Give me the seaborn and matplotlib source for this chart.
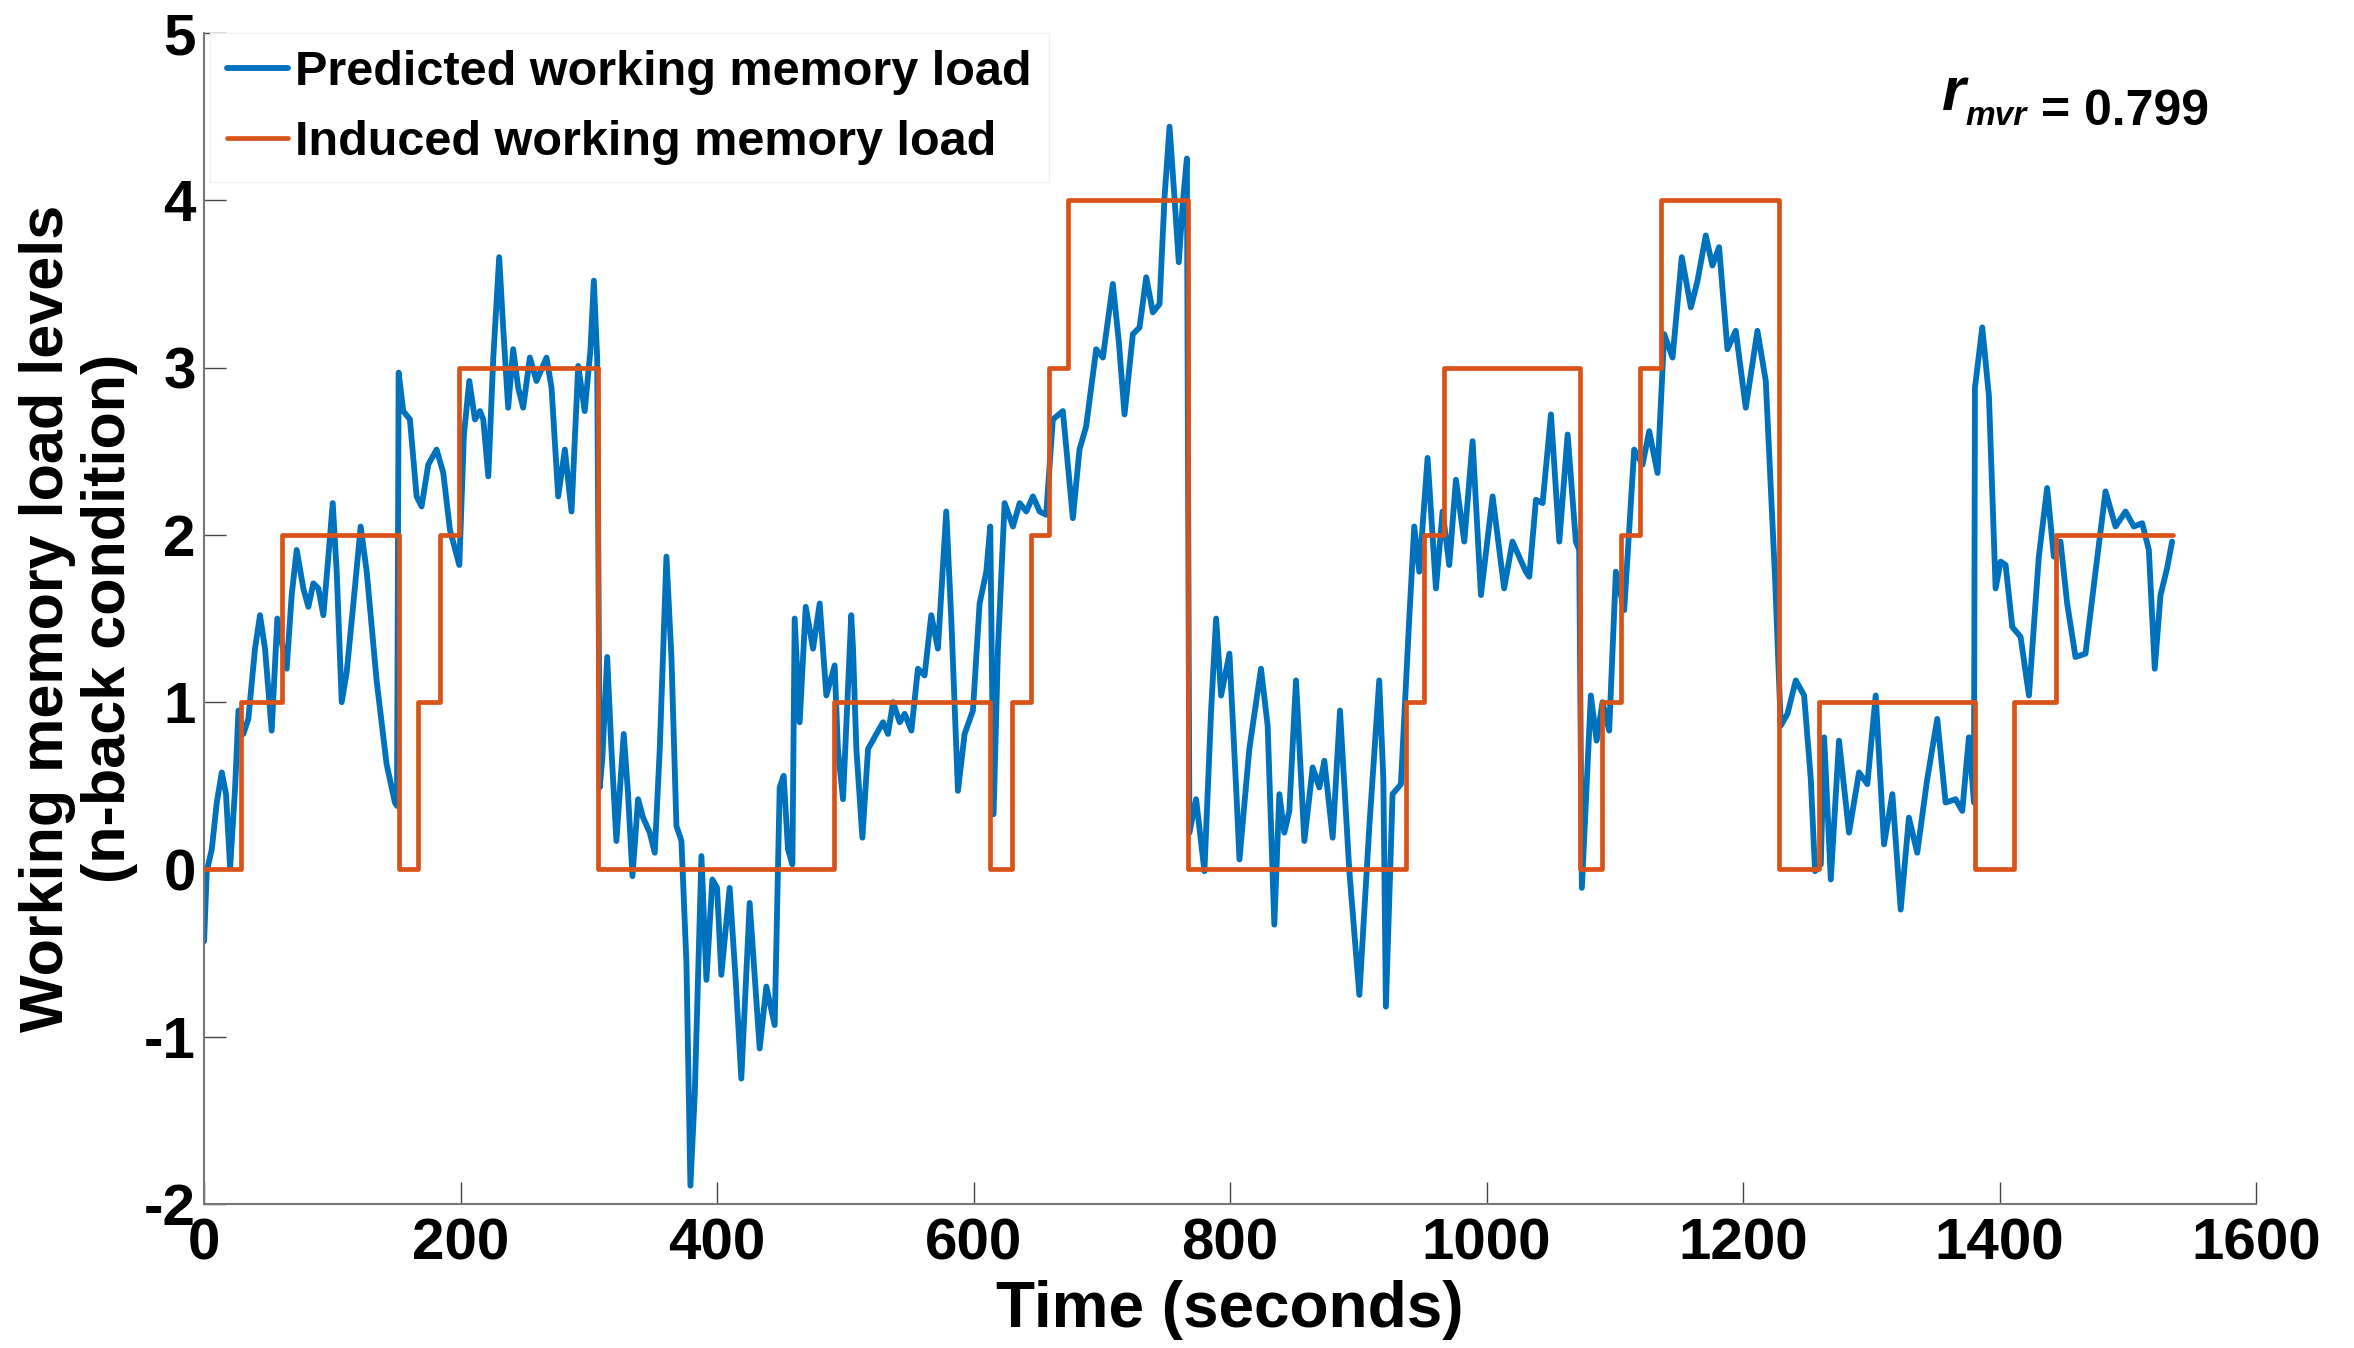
"""
Predicted vs induced working memory load over time.
"""
import matplotlib.pyplot as plt
import pandas as pd
import seaborn as sns

# induced load: step edges (s) and the level held from each edge to the next
step_edges = [0, 29, 61, 152, 167, 184, 199, 307, 491, 613, 630, 645, 659, 674, 767,
              937, 951, 967, 1073, 1090, 1105, 1120, 1136, 1228, 1259, 1381, 1411, 1444, 1535]
step_levels = [0, 1, 2, 0, 1, 2, 3, 0, 1, 0, 1, 2, 3, 4, 0,
               1, 2, 3, 0, 1, 2, 3, 4, 0, 1, 0, 1, 2]

# predicted load
pred_time = [0, 2.1, 6.0, 9.9, 13.8, 17.1, 20.3, 24.2, 26.8, 30.6, 34.5, 39.7, 43.6, 47.5,
             52.7, 57.1, 64.4, 68.3, 72.2, 77.4, 81.3, 85.2, 89.1, 93.0, 96.9, 100.3, 103.4,
             107.3, 111.2, 116.4, 122.1, 126.8, 134.5, 142.3, 148.8, 150.4, 151.7, 155.3,
             160.5, 165.7, 169.6, 174.8, 181.3, 186.5, 191.7, 199.0, 202.6, 206.8, 211.2,
             215.1, 217.7, 221.6, 225.5, 230.1, 233.2, 237.1, 241.0, 244.9, 248.8, 254.0,
             259.2, 267.0, 270.9, 276.1, 281.3, 286.5, 291.7, 296.8, 301.3, 303.9, 306.5,
             308.5, 310.6, 314.3, 317.6, 321.5, 327.2, 330.6, 334.0, 338.4, 342.3, 347.5,
             351.4, 355.3, 360.5, 364.4, 368.3, 372.2, 376.1, 379.2, 382.6, 387.8, 391.7,
             396.3, 400.0, 403.3, 409.8, 414.5, 418.9, 425.4, 433.2, 438.4, 444.9, 448.8,
             451.9, 455.3, 458.7, 460.5, 464.4, 469.1, 474.8, 480.0, 485.2, 491.7, 494.2,
             498.2, 504.6, 506.0, 508.6, 513.3, 517.7, 524.2, 529.4, 533.3, 537.2, 542.4,
             546.3, 551.5, 556.6, 561.8, 567.0, 572.2, 578.7, 582.6, 587.8, 593.0, 599.5,
             604.7, 609.9, 613.0, 615.6, 619.0, 624.2, 630.7, 635.9, 641.1, 646.3, 651.5,
             656.6, 661.8, 669.6, 677.4, 682.6, 687.8, 695.6, 700.8, 708.6, 713.3, 717.7,
             724.2, 729.4, 734.6, 739.8, 745.0, 748.9, 752.8, 756.6, 760.0, 763.1, 766.3,
             768.3, 773.5, 780.0, 785.2, 789.1, 793.0, 799.5, 804.7, 807.3, 815.0, 824.1,
             829.3, 834.5, 838.4, 842.3, 846.2, 851.4, 857.9, 864.4, 869.6, 873.5, 880.0,
             885.7, 893.0, 900.8, 908.6, 916.3, 919.5, 921.5, 926.7, 933.2, 939.7, 943.6,
             947.5, 954.0, 960.5, 965.7, 970.9, 976.1, 982.6, 989.1, 995.6, 1004.7, 1013.7,
             1020.2, 1030.6, 1033.3, 1038.5, 1043.7, 1050.2, 1056.7, 1063.2, 1069.6, 1072.2,
             1074.3, 1081.3, 1085.8, 1090.4, 1095.6, 1100.8, 1107.3, 1115.1, 1121.6, 1126.8,
             1133.3, 1138.5, 1145.0, 1152.2, 1159.3, 1164.5, 1170.9, 1176.1, 1181.3, 1187.8,
             1194.3, 1202.1, 1211.2, 1217.7, 1225.0, 1229.4, 1234.6, 1241.1, 1247.6, 1252.8,
             1256.1, 1260.6, 1263.2, 1268.4, 1274.8, 1282.6, 1290.4, 1296.9, 1303.4, 1309.9,
             1316.4, 1322.9, 1329.3, 1335.8, 1343.6, 1351.4, 1357.9, 1365.7, 1370.9, 1376.1,
             1380.0, 1380.8, 1386.5, 1391.7, 1396.9, 1400.8, 1404.7, 1409.9, 1416.4, 1422.9,
             1430.6, 1437.1, 1442.3, 1447.5, 1452.7, 1459.2, 1467.0, 1474.8, 1482.6, 1490.4,
             1498.2, 1504.7, 1511.2, 1516.4, 1521.0, 1525.5, 1530.6, 1534.5]
pred_load = [-0.43, -0.01, 0.12, 0.40, 0.58, 0.45, 0.01, 0.49, 0.95, 0.81, 0.90, 1.32, 1.52, 1.32,
             0.83, 1.50, 1.20, 1.64, 1.91, 1.68, 1.57, 1.71, 1.68, 1.52, 1.87, 2.19, 1.78,
             1.00, 1.18, 1.59, 2.05, 1.78, 1.13, 0.63, 0.40, 0.38, 2.97, 2.74,
             2.69, 2.23, 2.17, 2.42, 2.51, 2.37, 2.03, 1.82, 2.60, 2.92, 2.69,
             2.74, 2.69, 2.35, 3.06, 3.66, 3.24, 2.76, 3.11, 2.88, 2.76, 3.06,
             2.92, 3.06, 2.88, 2.23, 2.51, 2.14, 3.01, 2.74, 3.11, 3.52, 3.06,
             0.49, 0.67, 1.27, 0.72, 0.17, 0.81, 0.45, -0.04, 0.42, 0.31, 0.22,
             0.10, 0.72, 1.87, 1.27, 0.26, 0.17, -0.56, -1.89, -1.34, 0.08, -0.66,
             -0.06, -0.11, -0.63, -0.11, -0.66, -1.25, -0.20, -1.07, -0.70, -0.93, 0.49,
             0.56, 0.12, 0.03, 1.50, 0.88, 1.57, 1.32, 1.59, 1.04, 1.22, 0.72,
             0.42, 1.52, 1.32, 0.72, 0.19, 0.72, 0.81, 0.88, 0.81, 1.00, 0.88,
             0.93, 0.83, 1.20, 1.16, 1.52, 1.32, 2.14, 1.50, 0.47, 0.81, 0.95,
             1.59, 1.78, 2.05, 0.33, 1.32, 2.19, 2.05, 2.19, 2.14, 2.23, 2.14,
             2.12, 2.69, 2.74, 2.10, 2.51, 2.65, 3.11, 3.06, 3.50, 3.15, 2.72,
             3.20, 3.24, 3.54, 3.33, 3.38, 4.02, 4.44, 4.02, 3.63, 3.98, 4.25,
             0.22, 0.42, -0.01, 0.95, 1.50, 1.04, 1.29, 0.49, 0.06, 0.72, 1.20,
             0.86, -0.33, 0.45, 0.22, 0.35, 1.13, 0.17, 0.61, 0.49, 0.65, 0.19,
             0.95, -0.01, -0.75, 0.26, 1.13, 0.54, -0.82, 0.45, 0.51, 1.50, 2.05,
             1.78, 2.46, 1.68, 2.14, 1.82, 2.33, 1.96, 2.56, 1.64, 2.23, 1.68,
             1.96, 1.78, 1.75, 2.21, 2.19, 2.72, 1.96, 2.60, 1.96, 1.91,
             -0.11, 1.04, 0.77, 1.00, 0.83, 1.78, 1.55, 2.51, 2.42, 2.62,
             2.37, 3.20, 3.06, 3.66, 3.36, 3.52, 3.79, 3.61, 3.72, 3.11,
             3.22, 2.76, 3.22, 2.92, 1.73, 0.86, 0.93, 1.13, 1.04, 0.54,
             -0.01, 0.03, 0.79, -0.06, 0.77, 0.22, 0.58, 0.51, 1.04, 0.15,
             0.45, -0.24, 0.31, 0.10, 0.54, 0.90, 0.40, 0.42, 0.35, 0.79,
             0.40, 2.88, 3.24, 2.83, 1.68, 1.84, 1.82, 1.45, 1.39, 1.04,
             1.87, 2.28, 1.87, 1.96, 1.59, 1.27, 1.29, 1.78, 2.26, 2.05,
             2.14, 2.05, 2.07, 1.91, 1.20, 1.64, 1.80, 1.96]

x_ticks = [0, 200, 400, 600, 800, 1000, 1200, 1400, 1600]
y_ticks = [-2, -1, 0, 1, 2, 3, 4, 5]

BLUE = '#0072BD'
ORANGE = '#D95319'

sns.set_style('ticks')
plt.rcParams['font.family'] = ['Liberation Sans', 'DejaVu Sans']
plt.rcParams['font.weight'] = 'bold'
plt.rcParams['axes.unicode_minus'] = False
plt.rcParams['text.color'] = 'black'
plt.rcParams['axes.labelcolor'] = 'black'

df_pred = pd.DataFrame({'time': pred_time, 'load': pred_load})
df_step = pd.DataFrame({'time': step_edges, 'load': step_levels + [step_levels[-1]]})

fig = plt.figure(figsize=(23.54, 13.48), dpi=100)
ax = fig.add_axes([0.0867, 0.1068, 0.8717, 0.8687])

sns.lineplot(data=df_pred, x='time', y='load', ax=ax, color=BLUE, lw=4.2,
             estimator=None, sort=False, label='Predicted working memory load',
             solid_joinstyle='round', zorder=2)
sns.lineplot(data=df_step, x='time', y='load', ax=ax, color=ORANGE, lw=3.4,
             estimator=None, sort=False, drawstyle='steps-post',
             label='Induced working memory load', zorder=3)

ax.set_xlim(0, 1600)
ax.set_ylim(-2, 5)
ax.set_xticks(x_ticks)
ax.set_yticks(y_ticks)
ax.tick_params(direction='in', length=16, width=1, colors='#444444', labelcolor='black',
               labelsize=42)
ax.tick_params(axis='x', pad=10)
ax.tick_params(axis='y', pad=6)
for lab in ax.get_xticklabels() + ax.get_yticklabels():
    lab.set_fontweight('bold')

for side in ['top', 'right']:
    ax.spines[side].set_visible(False)
for side in ['left', 'bottom']:
    ax.spines[side].set_color('#777777')
    ax.spines[side].set_linewidth(1.5)

ax.set_xlabel('Time (seconds)', fontsize=46, fontweight='bold', labelpad=6)
ax.set_ylabel('Working memory load levels\n(n-back condition)', fontsize=44,
              fontweight='bold', labelpad=4, linespacing=1.12)

leg = ax.legend(loc='upper left', bbox_to_anchor=(0.003, 1.0), borderaxespad=0,
                fontsize=35, handlelength=1.25, handletextpad=0.15, labelspacing=0.52,
                borderpad=0.35, frameon=True, fancybox=False, framealpha=1)
leg.get_frame().set_edgecolor('#f0f0f0')
leg.get_frame().set_linewidth(1)
for t in leg.get_texts():
    t.set_color('black')

# r_mvr annotation
r_txt = ax.text(1355, 4.63, 'r', fontsize=44, fontweight='bold', style='italic',
                va='center', ha='left')
sub = ax.annotate('mvr', xy=(1.0, 0.12), xycoords=r_txt, fontsize=24, fontweight='bold',
                  style='italic', va='center', ha='left')
ax.annotate(' = 0.799', xy=(1.0, 0.66), xycoords=sub, fontsize=36, fontweight='bold',
            va='center', ha='left')

plt.savefig('out.png', dpi=100, facecolor='white')
